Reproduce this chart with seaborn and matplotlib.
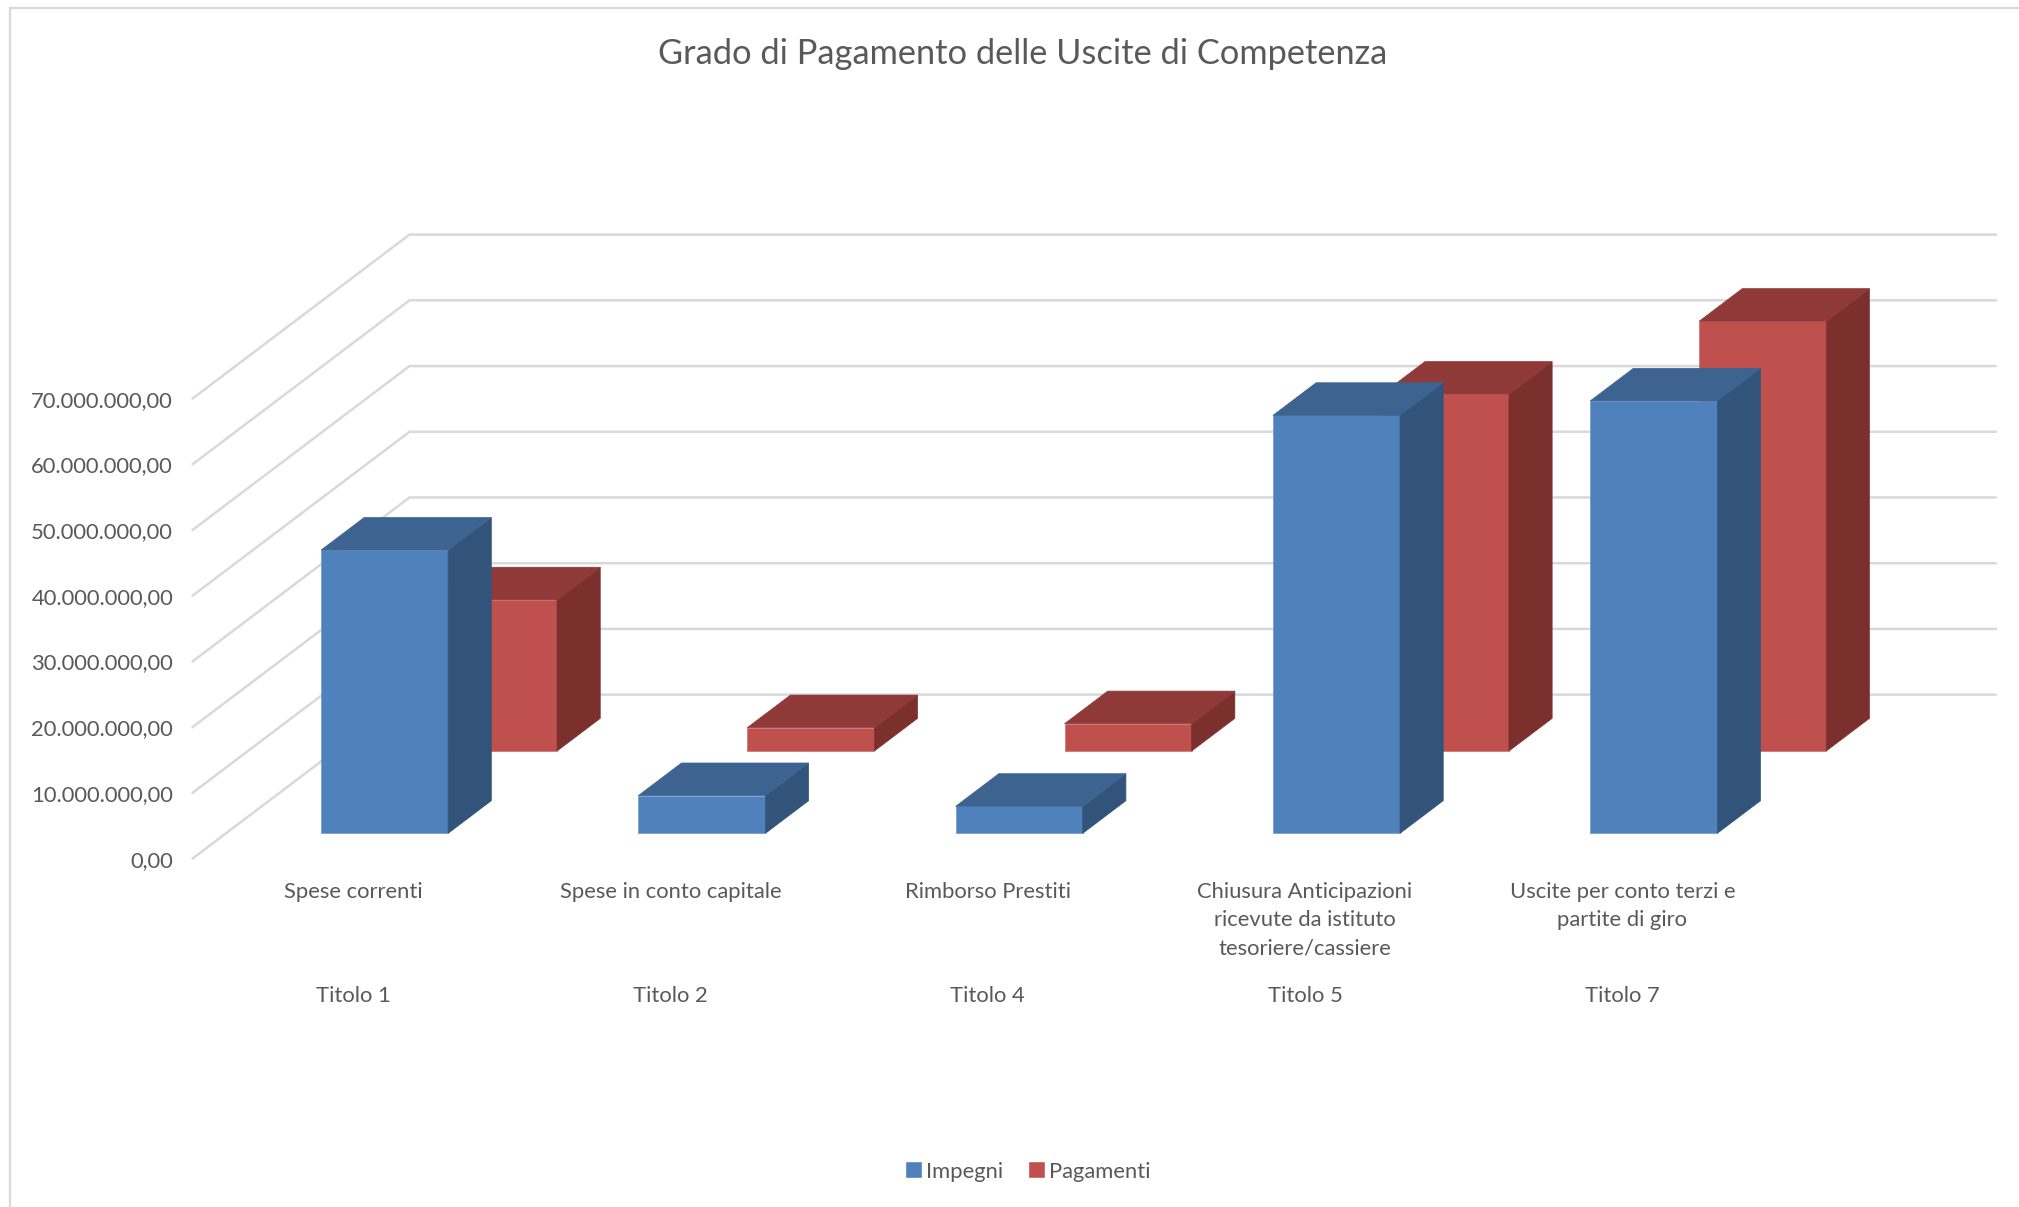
import matplotlib
matplotlib.use("Agg")
import matplotlib.pyplot as plt
import seaborn as sns
import pandas as pd
from matplotlib.lines import Line2D
from matplotlib.patches import Patch, Polygon
from matplotlib.transforms import Affine2D, IdentityTransform

categories = ["Spese correnti", "Spese in conto capitale", "Rimborso Prestiti",
              "Chiusura Anticipazioni\nricevute da istituto\ntesoriere/cassiere",
              "Uscite per conto terzi e\npartite di giro"]
titoli = ["Titolo 1", "Titolo 2", "Titolo 4", "Titolo 5", "Titolo 7"]
impegni = [43.1e6, 5.74e6, 4.11e6, 63.6e6, 65.8e6]
pagamenti = [23.0e6, 3.55e6, 4.15e6, 54.3e6, 65.4e6]
yticks = [0, 10e6, 20e6, 30e6, 40e6, 50e6, 60e6, 70e6]
ytick_labels = ["0,00", "10.000.000,00", "20.000.000,00", "30.000.000,00",
                "40.000.000,00", "50.000.000,00", "60.000.000,00", "70.000.000,00"]
title = "Grado di Pagamento delle Uscite di Competenza"

W, H = 2019, 1207
TEXT = "#595959"
GRID = "#D9D9D9"
FONT = "Lato"
sns.set_theme(style="white")
plt.rcParams["font.family"] = [FONT, "DejaVu Sans"]

fig = plt.figure(figsize=(W / 100, H / 100), dpi=100, facecolor="white")
# front plane of the 3D box
L, R, B, T = 192.5, 1779, 1207 - 858.6, 1207 - 398.6
ax = fig.add_axes([L / W, B / H, (R - L) / W, (T - B) / H], facecolor="none")

DX, DY = 217, 164   # full depth of the floor, px
DEPTHS = {"Impegni": (0.154, 0.353), "Pagamenti": (0.656, 0.855)}
BAR_W = 127 / 317
STYLE = {"Impegni": ("#4F81BD", "#32547A", "#3D6390", "#6F97C8"),
         "Pagamenti": ("#C0504D", "#7C302E", "#8F3A38", "#CC6F6C")}

ax.set_xlim(-0.5, 4.5)
ax.set_ylim(0, 70e6)
sns.despine(ax=ax, left=True, bottom=True)


def proj(x, v, d):
    px, py = ax.transData.transform((x, v))
    return px + DX * d, py + DY * d


# gridlines on wall and floor
for v in yticks:
    p0, p1, p2 = proj(-0.5, v, 0.0), proj(-0.5, v, 1.0), proj(4.5, v, 1.0)
    ax.add_line(Line2D([p0[0], p1[0], p2[0]], [p0[1], p1[1], p2[1]], color=GRID, lw=1.8,
                       transform=IdentityTransform(), zorder=0.5, clip_on=False,
                       solid_joinstyle="miter"))

table = pd.DataFrame({"categoria": categories, "Impegni": impegni, "Pagamenti": pagamenti})


def bars(series, z):
    front, side, top, edge = STYLE[series]
    d0, d1 = DEPTHS[series]
    n = len(ax.patches)
    sns.barplot(data=table, x="categoria", y=series, color=front, saturation=1,
                width=BAR_W, ax=ax, zorder=z - 0.2, edgecolor=edge, linewidth=0.5)
    shift = Affine2D().translate(DX * d0, DY * d0)
    for patch, v, i in zip(ax.patches[n:], table[series], range(len(categories))):
        patch.set_transform(ax.transData + shift)
        patch.set_clip_on(False)
        a, b = i - BAR_W / 2, i + BAR_W / 2
        faces = [([proj(b, 0, d0), proj(b, 0, d1), proj(b, v, d1), proj(b, v, d0)], side),
                 ([proj(a, v, d0), proj(b, v, d0), proj(b, v, d1), proj(a, v, d1)], top)]
        for pts, col in faces:
            ax.add_patch(Polygon(pts, closed=True, facecolor=col, edgecolor=col, lw=0.5,
                                 transform=IdentityTransform(), zorder=z, clip_on=False))


bars("Pagamenti", 2)
bars("Impegni", 4)

ax.set_xlim(-0.5, 4.5)
ax.set_ylim(0, 70e6)
ax.set_xlabel("")
ax.set_ylabel("")
ax.set_yticks(yticks)
ax.set_yticklabels(ytick_labels, fontsize=15.8, color=TEXT)
ax.set_xticks(range(len(categories)))
ax.set_xticklabels(categories, fontsize=15.8, color=TEXT, linespacing=1.5)
ax.tick_params(axis="y", length=0, pad=14)
ax.tick_params(axis="x", length=0, pad=17)
ax.grid(False)
for label in ax.get_xticklabels():
    label.set_transform(label.get_transform() + Affine2D().translate(2, 0))

for i, t in enumerate(titoli):
    ax.annotate(t, xy=(i, 0), xycoords=("data", "data"), xytext=(2, -127), textcoords="offset pixels",
                ha="center", va="top", fontsize=15.8, color=TEXT, annotation_clip=False)

fig.text(1022.5 / W, 1 - 53.5 / H, title, ha="center", va="center", fontsize=24.75, color=TEXT)

handles = [Patch(facecolor=STYLE[s][0], label=s) for s in ("Impegni", "Pagamenti")]
leg = fig.legend(handles=handles, loc="center", bbox_to_anchor=(1027.5 / W, 1 - 1171.5 / H), ncol=2,
                 frameon=False, fontsize=15.8, handlelength=0.8, handleheight=0.8,
                 handletextpad=0.15, columnspacing=1.15, labelcolor=TEXT)

# chart-area border (top and left edges visible)
fig.add_artist(Line2D([10, 10, W], [0, H - 8, H - 8], color=GRID, lw=1.6,
                      transform=IdentityTransform()))

fig.savefig("out.png", dpi=100, facecolor="white")
